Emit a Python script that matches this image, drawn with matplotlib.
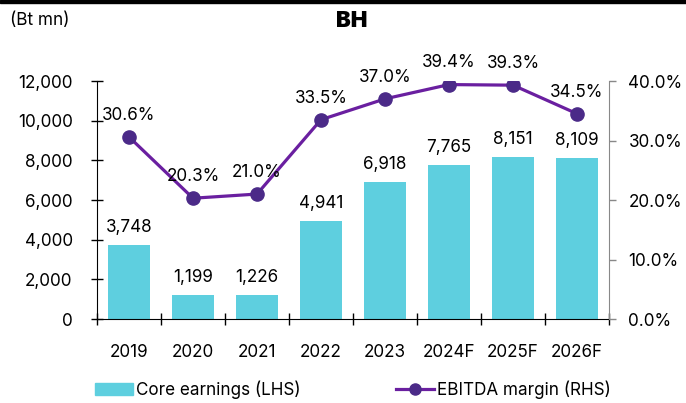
import numpy as np
import matplotlib.pyplot as plt
from matplotlib.ticker import FuncFormatter
from matplotlib.patches import Patch
from matplotlib.lines import Line2D

# 데이터
years = ['2019', '2020', '2021', '2022', '2023', '2024F', '2025F', '2026F']
core_earnings = [3748, 1199, 1226, 4941, 6918, 7765, 8151, 8109]
ebitda_margin = [30.6, 20.3, 21.0, 33.5, 37.0, 39.4, 39.3, 34.5]

bar_color = '#5ECFDF'
line_color = '#6A1FA0'
marker_color = '#4B2A88'

plt.rcParams['font.family'] = ['Inter', 'DejaVu Sans']
fs = 12.3

fig = plt.figure(figsize=(6.86, 4.03), dpi=100)
ax = fig.add_axes([0.1414, 0.2084, 0.7464, 0.5906])
ax2 = ax.twinx()

x = np.arange(len(years))
ax.bar(x, core_earnings, width=0.67, color=bar_color, zorder=2)
for xi, v in zip(x, core_earnings):
    ax.text(xi, v + 450, f"{v:,}", ha='center', va='bottom', fontsize=fs)

ax.set_xlim(-0.5, len(years) - 0.5)
ax.set_ylim(0, 12000)
ax.set_yticks(np.arange(0, 12001, 2000))
ax.yaxis.set_major_formatter(FuncFormatter(lambda v, p: f"{v:,.0f}"))
ax.set_xticks(x)
ax.set_xticklabels(years)
ax.set_xticks(np.arange(-0.5, len(years)), minor=True)
ax.tick_params(axis='x', which='major', length=0, pad=18, labelsize=fs)
ax.tick_params(axis='x', which='minor', direction='inout', length=9, width=1)
ax.tick_params(axis='y', direction='inout', length=9, width=1, labelsize=fs, pad=13)

ax2.plot(x, ebitda_margin, color=line_color, lw=2.3, marker='o', ms=9.5,
         mfc=marker_color, mec=marker_color, zorder=3)
for xi, v in zip(x, ebitda_margin):
    ax2.text(xi, v + 2.2, f"{v:.1f}%", ha='center', va='bottom', fontsize=fs)
ax2.set_ylim(0, 40)
ax2.set_yticks(np.arange(0, 41, 10))
ax2.yaxis.set_major_formatter(FuncFormatter(lambda v, p: f"{v:.1f}%"))
ax2.tick_params(axis='y', direction='out', length=5, width=1, color='#888888',
                labelsize=fs, pad=9)

for a in (ax, ax2):
    a.spines['top'].set_visible(False)
ax.spines['right'].set_visible(False)
ax2.spines['left'].set_visible(False)
ax2.spines['bottom'].set_visible(False)
ax2.spines['right'].set_color('#888888')

# 제목 및 단위
fig.text(0.513, 0.948, 'BH', ha='center', va='center', fontsize=16, fontweight='black')
fig.text(0.014, 0.948, '(Bt mn)', ha='left', va='center', fontsize=fs)
fig.add_artist(plt.Rectangle((0, 0.992), 1, 0.008, transform=fig.transFigure,
                             color='black'))

# 범례
handles = [Patch(color=bar_color, label='Core earnings (LHS)'),
           Line2D([], [], color=line_color, lw=2.3, marker='o', ms=8,
                  mfc=marker_color, mec=marker_color, label='EBITDA margin (RHS)')]
fig.legend(handles=handles, loc='center', bbox_to_anchor=(0.515, 0.033), ncol=2,
           frameon=False, fontsize=fs, handlelength=2.2, handletextpad=0.2,
           columnspacing=5.6)

fig.savefig('out.png', dpi=100)
